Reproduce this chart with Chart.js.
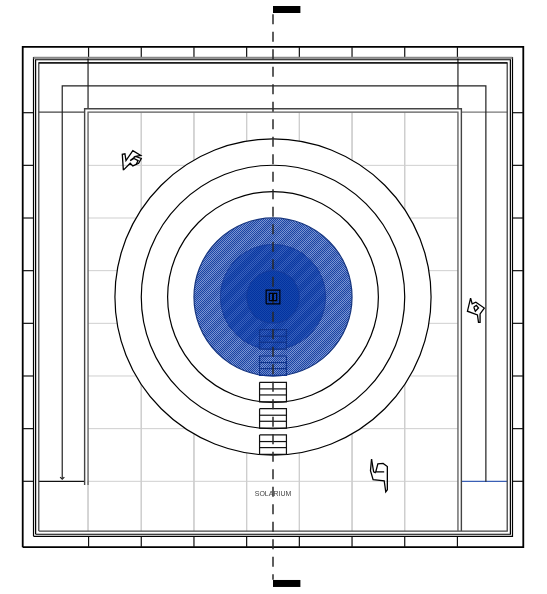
<!DOCTYPE html>
<html>
<head>
<meta charset="utf-8">
<style>
  html, body { margin: 0; padding: 0; background: #fff; }
  canvas { display: block; }
</style>
<script src="https://cdn.jsdelivr.net/npm/chart.js@4"></script>
</head>
<body>
<canvas id="plan" width="547" height="594"></canvas>
<script>
// plan units, origin at the centre of the rotunda, one grid module = 10
const gridLines = [-25, -15, -5, 5, 15, 25];
const tickLines = [-35, -25, -15, -5, 5, 15, 25, 35];
const ringRadii = [30, 25, 20];
const discRadii = [15, 10, 5];
const stairTops = [-6.2, -11.2, -16.2, -21.2, -26.2];
const stairTreads = [1.25, 2.4];
const stairHeight = 3.7;
const stairHalfWidth = 2.55;

const outerFrame = 47.5;
const wallOuter = 45.45;
const wallMiddle = 45.05;
const wallInner = 44.45;
const corridorXs = [-40, -40, 40.4, 40.4];
const corridorYs = [-34.4, 40.1, 40.1, -35.1];
const arrowXs = [-40.4, -40, -39.6];
const arrowYs = [-34.2, -34.6, -34.2];
const roomOuterXs = [-35.75, -35.75, 35.75, 35.75];
const roomOuterYs = [-35.7, 35.75, 35.75, -44.45];
const roomInnerXs = [-35.1, -35.1, 35.1, 35.1];
const roomInnerYs = [-35.7, 35.1, 35.1, -44.45];
const centreSquares = [1.3, 0.7];
const centreColumnYs = [0.7, -0.7];

const figureAXs = [-28.4, -28.6, -28.1, -27.9, -26.6, -25.1, -26.1, -25, -25.5, -26.6, -27.1, -28.4];
const figureAYs = [24.1, 27.1, 27.2, 25.9, 27.8, 26.9, 26.7, 26.3, 25.4, 24.9, 25.4, 24.1];
const figureAInnerXs = [-26.1, -27.1, -26.4, -25.6, -26];
const figureAInnerYs = [26.7, 25.9, 26.3, 25.9, 25.1];
const figureBXs = [18.7, 18.5, 19, 21.1, 21.4, 21.7, 21.7, 20.9, 19.9, 19.5, 21.1];
const figureBYs = [-30.8, -33, -34.7, -34.9, -37, -36.6, -32.2, -31.6, -31.7, -33.2, -33.2];
const figureBInnerXs = [18.7, 19.1, 19.5];
const figureBInnerYs = [-30.8, -33.2, -33.4];
const figureCXs = [37.5, 36.9, 38.8, 39, 39.3, 39.3, 40.1, 38.5, 37.8, 37.5];
const figureCYs = [-0.2, -2.7, -3.4, -4.8, -4.8, -3.2, -2.1, -1, -1.3, -0.2];
const figureCInnerXs = [38.1, 38.6, 39, 38.4, 38.1];
const figureCInnerYs = [-1.9, -1.6, -2.1, -2.7, -1.9];

const centreLineYs = [53.7, -53.7];
const sectionMarkXs = [0, 5.2];
const sectionMarkYs = [54.6, -54.4];
const roomLabel = "SOLARIUM";
const roomLabelX = 0;
const roomLabelY = -37.5;

const xMax = 52, yMax = 56.4;
const xMin = -xMax * 273 / 274;
const pxPerUnit = 547 / (xMax - xMin);
const datasets = [];

function line(xs, ys, color, width, extra) {
  datasets.push(Object.assign({
    type: "scatter",
    data: xs.map((x, i) => ({ x: x, y: ys[i] })),
    showLine: true,
    fill: false,
    tension: 0,
    pointRadius: 0,
    borderColor: color,
    borderWidth: width,
  }, extra || {}));
}

function square(half, color, width) {
  line([-half, -half, half, half, -half], [-half, half, half, -half, -half], color, width);
}

function disc(radius, fillStyle, color, width) {
  datasets.push({
    type: "bubble",
    data: [{ x: 0, y: 0, r: radius * pxPerUnit }],
    backgroundColor: fillStyle,
    borderColor: color,
    borderWidth: width,
  });
}

// fine checker hatch with wide diagonal bands, like the reference fill
function hatch(dark, light, darkBand, lightBand) {
  const tile = document.createElement("canvas");
  tile.width = 16;
  tile.height = 16;
  const c = tile.getContext("2d");
  for (let i = 0; i < 16; i++) {
    for (let j = 0; j < 16; j++) {
      const band = (i + j) % 16 < 8;
      if ((i + j) % 2 === 0) c.fillStyle = band ? dark : darkBand;
      else c.fillStyle = band ? light : lightBand;
      c.fillRect(i, j, 1, 1);
    }
  }
  return c.createPattern(tile, "repeat");
}

// grid first, everything else goes on top of it
gridLines.forEach((v) => {
  line([v, v], [35.1, -wallInner], "#cfcfcf", 1);
  line([-35.1, 35.1], [v, v], "#cfcfcf", 1);
});
line([-35.1, 35.1], [35.1, 35.1], "#cfcfcf", 1);
line([-35.1, 35.1], [-35, -35], "#cfcfcf", 1);
line([-35.1, -35.1], [-35, -wallInner], "#cfcfcf", 1);

// frame and walls
square(outerFrame, "#000", 1.8);
tickLines.forEach((v) => {
  line([v, v], [outerFrame, wallOuter], "#111", 1.2);
  line([v, v], [-outerFrame, -wallOuter], "#111", 1.2);
  line([-outerFrame, -wallOuter], [v, v], "#111", 1.2);
  line([wallOuter, outerFrame], [v, v], "#111", 1.2);
});
line([-35.1, -35.1], [wallOuter, 35.75], "#222", 1.2);
line([35.1, 35.1], [wallOuter, 35.75], "#222", 1.2);
line([-wallInner, -35.75], [35.1, 35.1], "#444", 1.2);
line([35.75, wallInner], [35.1, 35.1], "#777", 1.2);
line([-wallInner, -35.75], [-35, -35], "#111", 1.2);
line([35.75, wallInner], [-35, -35], "#3a5fb5", 1.2);
square(wallOuter, "#000", 1.2);
square(wallMiddle, "#000", 1.2);
line([-wallOuter, wallOuter], [wallOuter, wallOuter], "#888", 2);
square(wallInner, "#444", 1.3);
line([-wallInner, wallInner], [wallInner, wallInner], "#000", 1.3);

// corridor and room walls
line(corridorXs, corridorYs, "#222", 1.2);
line(arrowXs, arrowYs, "#222", 1.2);
line(roomOuterXs, roomOuterYs, "#444", 1.4);
line(roomInnerXs, roomInnerYs, "#666", 1.4);

// rings, filled white so they hide the grid
ringRadii.forEach((r) => disc(r, "#fff", "#000", 1.2));

function stair(top, color) {
  const xs = [-stairHalfWidth, -stairHalfWidth, stairHalfWidth, stairHalfWidth, -stairHalfWidth];
  line(xs, [top, top - stairHeight, top - stairHeight, top, top], color, 1.2);
  stairTreads.forEach((t) => line([-stairHalfWidth, stairHalfWidth], [top - t, top - t], color, 1.2));
}

stairTops.slice(2).forEach((top) => stair(top, "#111"));

disc(discRadii[0], hatch("#1d47a8", "#7d95d1", "#1a43a3", "#6d88c9"), "#17367f", 1.2);
disc(discRadii[1], hatch("#0a38a3", "#3b62ba", "#0836a0", "#2b55b2"), "rgba(20,55,150,0.7)", 1);
disc(discRadii[2], hatch("#0333a0", "#1747ac", "#0333a0", "#1747ac"), "rgba(20,55,150,0.7)", 1);

stairTops.slice(0, 2).forEach((top) => stair(top, "#11348c"));

// centre line and section marks
datasets.push({
  type: "scatter",
  data: centreLineYs.map((y) => ({ x: 0, y: y })),
  showLine: true,
  pointRadius: 0,
  borderColor: "rgba(40,40,40,0.75)",
  borderWidth: 2,
  borderDash: [10, 7.5],
});
sectionMarkYs.forEach((y) => line(sectionMarkXs, [y, y], "#000", 7, { borderCapStyle: "butt" }));

// centre column
centreSquares.forEach((s) => square(s, "#000", 1.2));
line([0, 0], centreColumnYs, "#000", 1);

// figures
line(figureAXs, figureAYs, "#000", 1.3);
line(figureAInnerXs, figureAInnerYs, "#000", 1.3);
line(figureBXs, figureBYs, "#000", 1.3);
line(figureBInnerXs, figureBInnerYs, "#000", 1.3);
line(figureCXs, figureCYs, "#000", 1.3);
line(figureCInnerXs, figureCInnerYs, "#000", 1.3);

const labelPlugin = {
  id: "roomLabel",
  afterDatasetsDraw(chart) {
    const ctx = chart.ctx;
    ctx.save();
    ctx.font = "7px 'Liberation Sans'";
    ctx.fillStyle = "#444";
    ctx.textAlign = "center";
    ctx.textBaseline = "middle";
    ctx.fillText(roomLabel, chart.scales.x.getPixelForValue(roomLabelX), chart.scales.y.getPixelForValue(roomLabelY));
    ctx.restore();
  },
};

new Chart(document.getElementById("plan"), {
  data: { datasets: datasets.reverse() },
  options: {
    responsive: false,
    animation: false,
    layout: { padding: 0, autoPadding: false },
    plugins: { legend: { display: false }, tooltip: { enabled: false } },
    scales: {
      x: { type: "linear", min: xMin, max: xMax, display: false },
      y: { type: "linear", min: -yMax, max: yMax, display: false },
    },
  },
  plugins: [labelPlugin],
});
</script>
</body>
</html>
